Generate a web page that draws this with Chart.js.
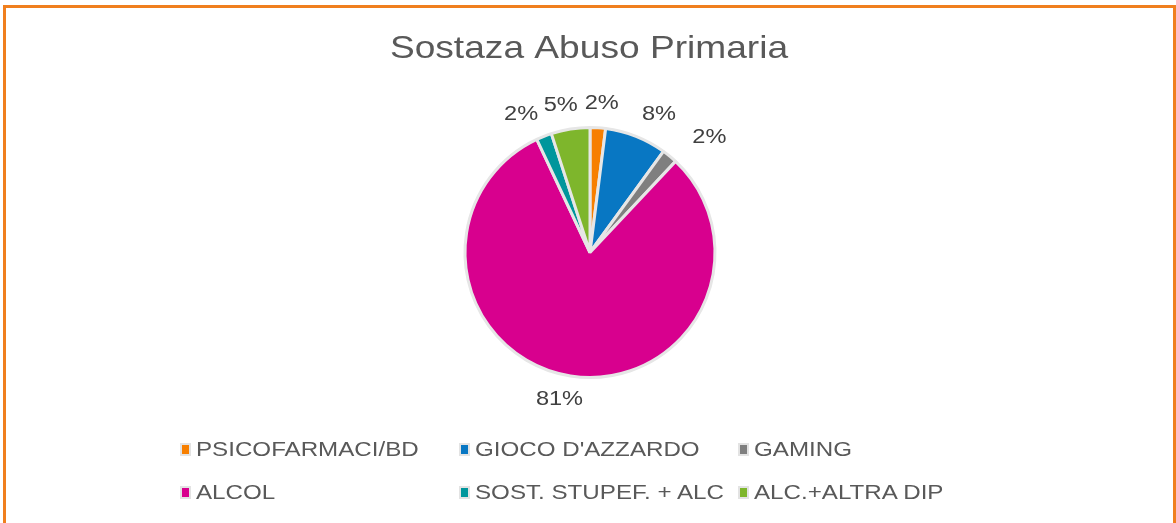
<!DOCTYPE html>
<html>
<head>
<meta charset="utf-8">
<title>Sostaza Abuso Primaria</title>
<script src="https://cdn.jsdelivr.net/npm/chart.js@4/dist/chart.umd.min.js"></script>
<style>
    body {
        margin: 0;
        background: #ffffff;
        font-family: "Liberation Sans", Arial, sans-serif;
    }
    #wrap {
        position: relative;
        width: 1176px;
        height: 523px;
        overflow: hidden;
    }
    #frame {
        position: absolute;
        left: 3px;
        top: 5px;
        width: 1167px;
        height: 600px;
        border: 3px solid #F07F1E;
    }
    #chart-box {
        position: absolute;
        left: 0;
        top: 0;
        width: 1176px;
        height: 523px;
    }
    #legend {
        position: absolute;
        left: 180px;
        top: 436px;
        display: grid;
        grid-template-columns: 279px 279px 279px;
        row-gap: 17px;
        font-size: 21px;
        color: #595959;
    }
    .item {
        display: flex;
        align-items: center;
        height: 26px;
        white-space: nowrap;
    }
    .swatch {
        width: 7px;
        height: 9px;
        border: 2px solid #e3e3e3;
        margin-right: 5px;
    }
    .txt {
        display: inline-block;
        transform: scaleX(1.15);
        transform-origin: left center;
    }
</style>
</head>
<body>
<div id="wrap">
    <div id="frame"></div>
    <div id="chart-box"><canvas id="pieChart"></canvas></div>
    <div id="legend"></div>
</div>
<script>
// Chart data
const categories = ['PSICOFARMACI/BD', "GIOCO D'AZZARDO", 'GAMING', 'ALCOL', 'SOST. STUPEF. + ALC', 'ALC.+ALTRA DIP'];
const shares = [2, 8, 2, 81, 2, 5];
const sliceColors = ['#F77F00', '#0877C3', '#7F7F7F', '#D8008E', '#00969C', '#7EB62C'];
const chartTitle = 'Sostaza Abuso Primaria';

const FONT = '"Liberation Sans", Arial, sans-serif';
const STRETCH = 1.15; // the original text is a little wider than Arial

// Function to draw the title (stretched a bit like the original)
const stretchedTitle = {
    id: 'stretchedTitle',
    afterDraw(chart) {
        const ctx = chart.ctx;
        ctx.save();
        ctx.font = '32px ' + FONT;
        ctx.fillStyle = '#595959';
        ctx.textAlign = 'center';
        ctx.textBaseline = 'middle';
        ctx.translate(chart.width / 2 + 1, 49);
        ctx.scale(1.16, 1);
        ctx.fillText(chartTitle, 0, 0);
        ctx.restore();
    }
};

// Function to draw the percentage labels just outside each slice
const outsideLabels = {
    id: 'outsideLabels',
    afterDatasetsDraw(chart) {
        const ctx = chart.ctx;
        const data = chart.data.datasets[0].data;
        const total = data.reduce((a, b) => a + b, 0);
        ctx.save();
        ctx.font = '20.5px ' + FONT;
        ctx.fillStyle = '#404040';
        ctx.textAlign = 'center';
        ctx.textBaseline = 'middle';

        // place each label box right outside the arc, spread a bit sideways
        const boxes = chart.getDatasetMeta(0).data.map((arc, i) => {
            const p = arc.getProps(['x', 'y', 'startAngle', 'endAngle', 'outerRadius'], true);
            const mid = (p.startAngle + p.endAngle) / 2;
            const ux = Math.cos(mid);
            const uy = Math.sin(mid);
            const text = Math.round(data[i] / total * 100) + '%';
            const w = ctx.measureText(text).width * STRETCH;
            const h = 20;
            const dist = p.outerRadius + 14;
            const dx = ux * dist + ux * w / 2;
            const dy = uy * dist + uy * h / 2;
            return { text: text, w: w, h: h, x: p.x + dx * 1.2, y: p.y + dy };
        });

        // push overlapping labels apart
        for (let k = 0; k < 30; k++) {
            for (let a = 0; a < boxes.length; a++) {
                for (let b = a + 1; b < boxes.length; b++) {
                    const A = boxes[a];
                    const B = boxes[b];
                    if (Math.abs(A.y - B.y) >= (A.h + B.h) / 2) continue;
                    const need = (A.w + B.w) / 2 + 4;
                    const gap = Math.abs(A.x - B.x);
                    if (gap < need) {
                        const move = (need - gap) / 2;
                        const dir = A.x < B.x ? -1 : 1;
                        A.x += dir * move;
                        B.x -= dir * move;
                    }
                }
            }
        }

        boxes.forEach(b => {
            ctx.save();
            ctx.translate(b.x, b.y);
            ctx.scale(STRETCH, 1);
            ctx.fillText(b.text, 0, 0);
            ctx.restore();
        });
        ctx.restore();
    }
};

// Function to build the legend as a grid below the chart
const htmlLegend = {
    id: 'htmlLegend',
    afterUpdate(chart) {
        const box = document.getElementById('legend');
        box.innerHTML = '';
        const items = chart.options.plugins.legend.labels.generateLabels(chart);
        items.forEach(item => {
            const div = document.createElement('div');
            div.className = 'item';
            const sw = document.createElement('span');
            sw.className = 'swatch';
            sw.style.background = item.fillStyle;
            const txt = document.createElement('span');
            txt.className = 'txt';
            txt.textContent = item.text;
            div.appendChild(sw);
            div.appendChild(txt);
            box.appendChild(div);
        });
    }
};

const ctx = document.getElementById('pieChart').getContext('2d');
const pieChart = new Chart(ctx, {
    type: 'pie',
    data: {
        labels: categories,
        datasets: [
            {
                data: shares,
                backgroundColor: sliceColors,
                borderColor: '#E6E6E6',
                borderWidth: 3,
                radius: 125
            }
        ]
    },
    options: {
        responsive: true,
        maintainAspectRatio: false,
        animation: false,
        layout: {
            padding: { left: 4, top: 79, bottom: 97 }
        },
        plugins: {
            legend: {
                display: false  // legend is drawn as html
            },
            tooltip: {
                enabled: false
            },
            title: {
                display: false  // title is drawn by stretchedTitle
            }
        }
    },
    plugins: [outsideLabels, stretchedTitle, htmlLegend]
});
</script>
</body>
</html>
